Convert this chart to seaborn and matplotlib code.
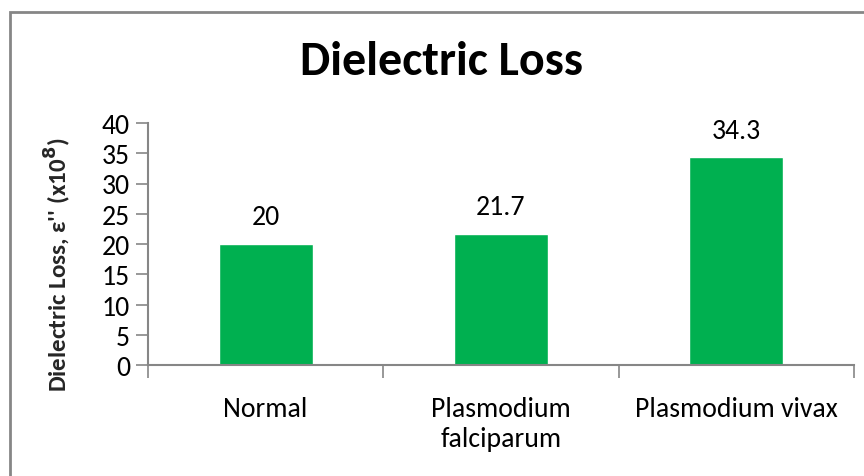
import matplotlib
matplotlib.use("Agg")
import matplotlib.pyplot as plt
import seaborn as sns
import pandas as pd
from matplotlib.patches import Rectangle

categories = ["Normal", "Plasmodium\nfalciparum", "Plasmodium vivax"]
values = [20, 21.7, 34.3]
value_labels = ["20", "21.7", "34.3"]
yticks = [0, 5, 10, 15, 20, 25, 30, 35, 40]

sns.set_theme(style="white")
plt.rcParams['font.family'] = ['Carlito', 'Barlow Semi Condensed', 'DejaVu Sans']

df = pd.DataFrame({"cat": categories, "val": values})

fig = plt.figure(figsize=(8.64, 4.77), dpi=100)
ax = fig.add_axes([148/864, 1 - 366/477, (854-148)/864, (366-124)/477])

sns.barplot(data=df, x="cat", y="val", color="#00B050", width=0.4, saturation=1, ax=ax)

ax.set_ylim(0, 40)
ax.set_xlim(-0.5, 2.5)
ax.set_yticks(yticks)
ax.set_yticklabels([str(t) for t in yticks], fontsize=20, color="black")
ax.set_xticks([-0.5, 0.5, 1.5, 2.5])
ax.set_xticklabels(["", "", "", ""])
for i, c in enumerate(categories):
    ax.text(i, -0.13, c, transform=ax.get_xaxis_transform(), ha="center", va="top",
            fontsize=20, color="black", linespacing=1.25)
ax.tick_params(axis="y", which="major", direction="out", length=9, width=1.2, color="#868686", pad=4, left=True)
ax.tick_params(axis="x", which="major", direction="out", length=9, width=1.2, color="#868686", bottom=True)

for s in ["top", "right"]:
    ax.spines[s].set_visible(False)
for s in ["left", "bottom"]:
    ax.spines[s].set_color("#868686")
    ax.spines[s].set_linewidth(1.5)

for i, (v, lab) in enumerate(zip(values, value_labels)):
    ax.text(i, v + 4.5, lab, ha="center", va="center", fontsize=20, color="black")

ax.set_xlabel("")
ax.set_ylabel("Dielectric Loss, ε'' (x10$^\\mathbf{8}$)", fontsize=18, fontweight="bold")
ax.yaxis.set_label_coords(-0.106, 0.42)

fig.text(442/864, 1 - 62/477, "Dielectric Loss", ha="center", va="center",
         fontsize=34.5, fontweight="bold", color="black")

fig.patches.append(Rectangle((10/864, -0.1), 1.2, 1 - 13/477 + 0.1, transform=fig.transFigure,
                             fill=False, edgecolor="#868686", linewidth=2))

fig.savefig("out.png", dpi=100)
